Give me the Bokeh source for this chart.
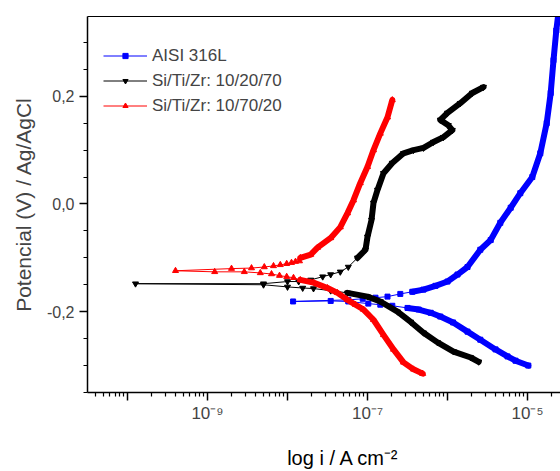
from bokeh.plotting import figure
from bokeh.models import (Range1d, FixedTicker, LogAxis, CustomJSTickFormatter,
                          Legend, LegendItem)
from bokeh.embed import file_html
from bokeh.resources import INLINE

FONT = "Liberation Sans"

# ---------------- data (log10 of current density in A/cm2, potential in V) ----------------
# AISI 316L
aisi_cath_logi = [-4.99, -5.15, -5.25, -5.40, -5.59, -5.75, -5.93, -6.09, -6.21, -6.36, -6.50]
aisi_cath_E = [-0.300, -0.291, -0.283, -0.270, -0.252, -0.237, -0.220, -0.209, -0.202, -0.196, -0.193]
aisi_mid_logi = [-6.69, -6.84, -6.99, -7.24, -7.46, -7.93, -7.24, -7.06, -6.90, -6.75, -6.59]
aisi_mid_E = [-0.189, -0.187, -0.185, -0.181, -0.180, -0.181, -0.178, -0.176, -0.174, -0.172, -0.167]
aisi_anod_logi = [-6.44, -6.30, -6.15, -6.00, -5.875, -5.75, -5.59, -5.46, -5.34, -5.21, -5.09,
                  -4.94, -4.84, -4.76, -4.71, -4.675, -4.64, -4.61]
aisi_anod_E = [-0.163, -0.159, -0.152, -0.144, -0.131, -0.117, -0.085, -0.067, -0.035, -0.007, 0.020,
               0.050, 0.094, 0.150, 0.206, 0.267, 0.322, 0.359]

# Si/Ti/Zr: 10/20/70
s1_cath_logi = [-5.61, -5.71, -5.925, -6.125, -6.30, -6.46, -6.625, -6.84, -7.00, -7.25]
s1_cath_E = [-0.293, -0.285, -0.274, -0.257, -0.239, -0.219, -0.200, -0.181, -0.172, -0.165]
s1_mid_logi = [-7.46, -7.675, -7.81, -8.00, -8.30, -9.90, -8.30, -8.00, -7.86, -7.71, -7.56, -7.46, -7.34, -7.24]
s1_mid_E = [-0.161, -0.157, -0.156, -0.154, -0.150, -0.148, -0.148, -0.144, -0.144, -0.141, -0.135, -0.131, -0.126, -0.117]
s1_anod_logi = [-7.125, -7.025, -7.00, -6.95, -6.925, -6.875, -6.80, -6.69, -6.55, -6.425, -6.30,
                -6.175, -6.05, -5.94, -5.99, -6.09, -6.00, -5.84, -5.69, -5.55]
s1_anod_E = [-0.100, -0.085, -0.061, -0.030, 0.002, 0.026, 0.057, 0.076, 0.094, 0.100, 0.104,
             0.115, 0.124, 0.137, 0.146, 0.156, 0.169, 0.187, 0.206, 0.217]

# Si/Ti/Zr: 10/70/20
s2_cath_logi = [-6.31, -6.425, -6.55, -6.675, -6.80, -6.925, -7.05, -7.15, -7.25, -7.375, -7.50, -7.675, -7.84]
s2_cath_E = [-0.315, -0.307, -0.294, -0.270, -0.243, -0.215, -0.196, -0.187, -0.178, -0.165, -0.156, -0.146, -0.141]
s2_mid_logi = [-7.925, -8.01, -8.10, -8.20, -8.34, -8.54, -8.91, -9.40, -8.70, -8.45, -8.29, -8.175,
               -8.09, -8.01, -7.95, -7.90, -7.85]
s2_mid_E = [-0.137, -0.135, -0.133, -0.130, -0.128, -0.126, -0.126, -0.124, -0.120, -0.119, -0.117, -0.115,
            -0.113, -0.111, -0.109, -0.107, -0.106]
s2_anod_logi = [-7.84, -7.71, -7.625, -7.46, -7.34, -7.25, -7.175, -7.09, -7.00, -6.925, -6.84, -6.75, -6.69]
s2_anod_E = [-0.100, -0.094, -0.081, -0.063, -0.043, -0.017, 0.007, 0.039, 0.069, 0.100, 0.131, 0.161, 0.193]

labels = ["AISI 316L", "Si/Ti/Zr: 10/20/70", "Si/Ti/Zr: 10/70/20"]
colors = ["#0000FF", "#000000", "#FF0000"]
markers = ["square", "inverted_triangle", "triangle"]
marker_sizes = [5, 6, 6]

y_major_ticks = [-0.2, 0.0, 0.2]
y_minor_ticks = [-0.35, -0.3, -0.25, -0.15, -0.1, -0.05, 0.05, 0.1, 0.15, 0.25, 0.3]
x_decades = [-10, -9, -8, -7, -6, -5]

x_title = "log i / A cm\u207b\u00b2"
y_title = "Potencial (V) / Ag/AgCl"

# ---------------- figure ----------------
p = figure(width=560, height=471, x_axis_type="log",
           x_range=Range1d(10 ** -10.5, 10 ** -4.5875), y_range=Range1d(-0.35, 0.348),
           output_backend="svg", toolbar_location=None,
           min_border_left=87, min_border_right=0, min_border_top=16, min_border_bottom=78)
p.xgrid.visible = False
p.ygrid.visible = False
p.outline_line_color = None
p.background_fill_color = "white"

series = [
    (aisi_cath_logi, aisi_cath_E, aisi_mid_logi, aisi_mid_E, aisi_anod_logi, aisi_anod_E),
    (s1_cath_logi, s1_cath_E, s1_mid_logi, s1_mid_E, s1_anod_logi, s1_anod_E),
    (s2_cath_logi, s2_cath_E, s2_mid_logi, s2_mid_E, s2_anod_logi, s2_anod_E),
]

items = []
for (cl, ce, ml, me, al, ae), lab, col, mk, ms in zip(series, labels, colors, markers, marker_sizes):
    ci = [10 ** v for v in cl]
    mi = [10 ** v for v in ml]
    ai = [10 ** v for v in al]
    p.line(ci, ce, line_color=col, line_width=6, line_join="round", line_cap="round")
    p.line(ai, ae, line_color=col, line_width=6, line_join="round", line_cap="round")
    thin = p.line(ci + mi + ai, ce + me + ae, line_color=col, line_width=1)
    sc = p.scatter(ci + mi + ai, ce + me + ae, marker=mk, size=ms, fill_color=col, line_color=col)
    items.append(LegendItem(label=lab, renderers=[thin, sc]))

legend = Legend(items=items, location=(16, 275), background_fill_alpha=0, border_line_color=None,
                label_text_font=FONT, label_text_font_size="17px", glyph_width=44, glyph_height=13,
                label_height=23, spacing=2, padding=5, margin=0, label_standoff=5)
p.add_layout(legend)

# ---------------- axes ----------------
p.xaxis.ticker = FixedTicker(ticks=[10.0 ** e for e in x_decades],
                             minor_ticks=[k * 10.0 ** e for e in range(-11, -4) for k in range(2, 10)])
p.xaxis.formatter = CustomJSTickFormatter(code="""
    const e = Math.round(Math.log10(tick));
    if (e % 2 == 0) { return ''; }
    const sup = {'-': '\\u207b', '0': '\\u2070', '1': '\\u00b9', '2': '\\u00b2', '3': '\\u00b3',
                 '4': '\\u2074', '5': '\\u2075', '6': '\\u2076', '7': '\\u2077', '8': '\\u2078', '9': '\\u2079'};
    return '10' + String(e).split('').map(c => sup[c]).join('');
""")
p.yaxis.ticker = FixedTicker(ticks=y_major_ticks, minor_ticks=y_minor_ticks)
p.yaxis.formatter = CustomJSTickFormatter(code="""
    var s = tick.toFixed(1);
    if (Math.abs(tick) < 1e-9) { s = '0.0'; }
    return s.replace('.', ',');
""")

for ax in (p.xaxis[0], p.yaxis[0]):
    ax.axis_line_width = 1.5
    ax.major_tick_line_width = 1.5
    ax.minor_tick_line_width = 1.2
    ax.major_tick_in = 0
    ax.minor_tick_in = 0
    ax.major_tick_out = 8
    ax.minor_tick_out = 4
    ax.major_label_text_font = FONT
    ax.major_label_text_font_size = "16px"
    ax.axis_label_text_font = FONT
    ax.axis_label_text_font_style = "normal"
    ax.axis_label_text_font_size = "20px"

p.yaxis.major_label_standoff = 5
p.yaxis.axis_label = y_title
p.yaxis.axis_label_standoff = 9
p.yaxis.axis_label_text_font_size = "21px"
p.xaxis.major_label_standoff = 3
p.xaxis.major_label_text_font_size = "17px"

top = LogAxis(ticker=FixedTicker(ticks=[]), axis_line_width=1, major_tick_line_color=None,
              minor_tick_line_color=None, major_label_text_font_size="0px")
p.add_layout(top, "above")

# x axis title on a tickless axis below the tick labels (non-breaking spaces shift it right
# like in the reference, whose frame continued past the right edge)
title_axis = LogAxis(ticker=FixedTicker(ticks=[]),
                     axis_line_color=None, major_tick_line_color=None, minor_tick_line_color=None,
                     major_tick_out=0, minor_tick_out=0, major_label_standoff=0,
                     axis_label="\u00a0" * 7 + x_title, axis_label_standoff=21,
                     axis_label_text_font=FONT, axis_label_text_font_size="20px",
                     axis_label_text_font_style="normal", axis_label_text_color="black")
p.add_layout(title_axis, "below")

open("out.html", "w").write(file_html(p, INLINE))
